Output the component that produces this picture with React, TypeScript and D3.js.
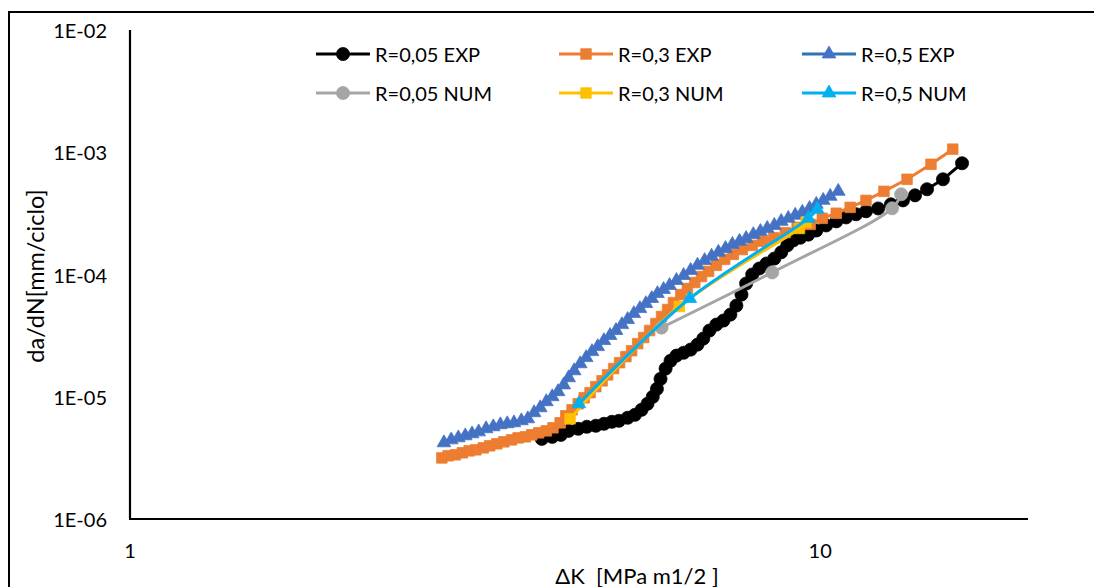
import React from "react";
import * as d3 from "d3";

const W = 1094;
const H = 587;

const xTickValues = [1, 10];
const xTickLabels = ["1", "10"];
const yTickValues = [1e-2, 1e-3, 1e-4, 1e-5, 1e-6];
const yTickLabels = ["1E-02", "1E-03", "1E-04", "1E-05", "1E-06"];

const xTitle = "ΔK  [MPa m1/2 ]";
const yTitle = "da/dN[mm/ciclo]";

// [ΔK, da/dN]
const r005Exp: [number, number][] = [
  [3.95, 4.52e-6], [4.09, 4.7e-6], [4.21, 4.88e-6], [4.32, 5.26e-6], [4.46, 5.47e-6],
  [4.59, 5.68e-6], [4.73, 5.79e-6], [4.86, 6.01e-6], [4.99, 6.24e-6], [5.11, 6.36e-6],
  [5.26, 6.73e-6], [5.39, 7.12e-6], [5.51, 7.82e-6], [5.62, 8.76e-6], [5.72, 1.0e-5],
  [5.8, 1.16e-5], [5.87, 1.4e-5], [5.97, 1.7e-5], [6.07, 1.97e-5], [6.19, 2.17e-5],
  [6.34, 2.29e-5], [6.49, 2.43e-5], [6.64, 2.67e-5], [6.77, 2.99e-5], [6.91, 3.48e-5],
  [7.07, 3.89e-5], [7.24, 4.2e-5], [7.41, 4.7e-5], [7.56, 5.57e-5], [7.69, 6.85e-5],
  [7.81, 8.44e-5], [7.97, 1.0e-4], [8.16, 1.12e-4], [8.36, 1.23e-4], [8.58, 1.35e-4],
  [8.78, 1.52e-4], [8.96, 1.73e-4], [9.14, 1.9e-4], [9.36, 2.0e-4], [9.61, 2.12e-4],
  [9.87, 2.29e-4], [10.2, 2.52e-4], [10.55, 2.72e-4], [10.9, 2.93e-4], [11.27, 3.11e-4],
  [11.65, 3.29e-4], [12.13, 3.47e-4], [12.66, 3.75e-4], [13.18, 4.04e-4], [13.72, 4.44e-4],
  [14.28, 4.98e-4], [15.06, 6.01e-4], [16.05, 8.13e-4],
];

const r03Exp: [number, number][] = [
  [2.83, 3.16e-6], [2.89, 3.29e-6], [2.96, 3.35e-6], [3.03, 3.48e-6], [3.1, 3.61e-6],
  [3.17, 3.68e-6], [3.25, 3.82e-6], [3.32, 3.97e-6], [3.4, 4.12e-6], [3.48, 4.28e-6],
  [3.57, 4.44e-6], [3.65, 4.61e-6], [3.74, 4.7e-6], [3.82, 4.88e-6], [3.91, 5.07e-6],
  [4.01, 5.26e-6], [4.1, 5.57e-6], [4.2, 6.12e-6], [4.28, 6.99e-6], [4.37, 7.82e-6],
  [4.46, 8.76e-6], [4.55, 9.81e-6], [4.64, 1.08e-5], [4.73, 1.21e-5], [4.83, 1.35e-5],
  [4.92, 1.51e-5], [5.02, 1.7e-5], [5.12, 1.9e-5], [5.23, 2.13e-5], [5.33, 2.38e-5],
  [5.44, 2.72e-5], [5.55, 3.05e-5], [5.66, 3.48e-5], [5.78, 3.97e-5], [5.89, 4.53e-5],
  [6.01, 5.17e-5], [6.13, 5.89e-5], [6.28, 6.85e-5], [6.42, 7.68e-5], [6.58, 8.6e-5],
  [6.73, 9.63e-5], [6.89, 1.06e-4], [7.07, 1.19e-4], [7.27, 1.33e-4], [7.48, 1.46e-4],
  [7.71, 1.6e-4], [7.97, 1.73e-4], [8.25, 1.87e-4], [8.56, 2.0e-4], [8.9, 2.2e-4],
  [9.26, 2.43e-4], [9.67, 2.57e-4], [10.07, 2.88e-4], [10.55, 3.17e-4], [11.05, 3.54e-4],
  [11.65, 4.04e-4], [12.37, 4.79e-4], [13.36, 6.01e-4], [14.47, 7.97e-4], [15.56, 1.06e-3],
];

const r05Exp: [number, number][] = [
  [2.85, 4.2e-6], [2.92, 4.44e-6], [2.99, 4.61e-6], [3.06, 4.79e-6], [3.13, 4.97e-6],
  [3.2, 5.16e-6], [3.28, 5.47e-6], [3.36, 5.68e-6], [3.44, 5.9e-6], [3.52, 6.01e-6],
  [3.6, 6.12e-6], [3.69, 6.36e-6], [3.77, 6.6e-6], [3.85, 7.4e-6], [3.93, 8.12e-6],
  [4.01, 9.1e-6], [4.09, 1.0e-5], [4.17, 1.1e-5], [4.25, 1.25e-5], [4.32, 1.43e-5],
  [4.4, 1.63e-5], [4.49, 1.86e-5], [4.58, 2.09e-5], [4.67, 2.34e-5], [4.76, 2.57e-5],
  [4.86, 2.88e-5], [4.96, 3.17e-5], [5.06, 3.48e-5], [5.16, 3.89e-5], [5.26, 4.28e-5],
  [5.37, 4.79e-5], [5.48, 5.26e-5], [5.59, 5.78e-5], [5.7, 6.36e-5], [5.81, 6.98e-5],
  [5.93, 7.54e-5], [6.05, 8.13e-5], [6.19, 8.93e-5], [6.34, 9.81e-5], [6.49, 1.08e-4],
  [6.64, 1.19e-4], [6.8, 1.3e-4], [6.96, 1.41e-4], [7.12, 1.52e-4], [7.29, 1.63e-4],
  [7.46, 1.76e-4], [7.64, 1.87e-4], [7.81, 1.97e-4], [8.0, 2.12e-4], [8.19, 2.25e-4],
  [8.38, 2.38e-4], [8.58, 2.52e-4], [8.78, 2.72e-4], [8.99, 2.88e-4], [9.2, 3.05e-4],
  [9.42, 3.23e-4], [9.65, 3.47e-4], [9.87, 3.75e-4], [10.1, 4.04e-4], [10.34, 4.36e-4],
  [10.62, 4.79e-4],
];

const r005Num: [number, number][] = [
  [5.89, 3.68e-5], [8.52, 1.04e-4], [12.71, 3.48e-4], [13.1, 4.53e-4],
];

const r03Num: [number, number][] = [
  [4.34, 6.6e-6], [6.25, 5.47e-5], [9.33, 2.38e-4], [9.54, 2.67e-4],
];

const r05Num: [number, number][] = [
  [4.47, 8.76e-6], [6.47, 6.36e-5], [9.61, 2.88e-4], [9.9, 3.42e-4],
];

type Marker = "circle" | "square" | "triangle";
interface Series {
  name: string;
  data: [number, number][];
  line: string;
  fill: string;
  stroke: string;
  marker: Marker;
  smooth: boolean;
}

const series: Series[] = [
  { name: "R=0,05 EXP", data: r005Exp, line: "#000000", fill: "#000000", stroke: "#000000", marker: "circle", smooth: false },
  { name: "R=0,3 EXP", data: r03Exp, line: "#ED7D31", fill: "#ED7D31", stroke: "#ED7D31", marker: "square", smooth: false },
  { name: "R=0,5 EXP", data: r05Exp, line: "#2E75B6", fill: "#4472C4", stroke: "#4472C4", marker: "triangle", smooth: false },
  { name: "R=0,05 NUM", data: r005Num, line: "#A5A5A5", fill: "#A5A5A5", stroke: "#A5A5A5", marker: "circle", smooth: true },
  { name: "R=0,3 NUM", data: r03Num, line: "#FFC000", fill: "#FFC000", stroke: "#FFC000", marker: "square", smooth: true },
  { name: "R=0,5 NUM", data: r05Num, line: "#00B0F0", fill: "#00B0F0", stroke: "#00B0F0", marker: "triangle", smooth: true },
];

const FONT = "Lato, 'Open Sans', sans-serif";

const x = d3.scaleLog().domain([1, 20]).range([130, 1028]);
const y = d3.scaleLog().domain([1e-6, 1e-2]).range([519, 30]);

const symbolPath: Record<Marker, string> = {
  circle: d3.symbol().type(d3.symbolCircle).size(135)() as string,
  square: d3.symbol().type(d3.symbolSquare).size(112)() as string,
  triangle: d3.symbol().type(d3.symbolTriangle).size(82)() as string,
};

function MarkerShape({ m, cx, cy, fill, stroke }: { m: Marker; cx: number; cy: number; fill: string; stroke: string }) {
  return <path d={symbolPath[m]} transform={`translate(${cx},${cy})`} fill={fill} stroke={stroke} strokeWidth={0.75} />;
}

const legendCols = [316, 559, 802];
const legendRows = [54, 93];

export default function App() {
  return (
    <svg width={W} height={H} style={{ position: "absolute", left: 0, top: 0, background: "#fff" }}>
      <rect x={0} y={0} width={W} height={H} fill="#ffffff" />
      <rect x={9} y={12} width={W + 20} height={H + 20} fill="none" stroke="#000" strokeWidth={2} />

      {/* axes */}
      <line x1={130} y1={30} x2={130} y2={519} stroke="#000" strokeWidth={2.2} />
      <line x1={129} y1={519} x2={1028} y2={519} stroke="#000" strokeWidth={2.2} />

      {yTickValues.map((v, i) => (
        <text key={i} x={107} y={y(v)} textAnchor="end" dominantBaseline="central" fontFamily={FONT} fontSize={20} fill="#000">
          {yTickLabels[i]}
        </text>
      ))}
      {xTickValues.map((v, i) => (
        <text key={i} x={x(v)} y={550} textAnchor="middle" dominantBaseline="central" fontFamily={FONT} fontSize={20} fill="#000">
          {xTickLabels[i]}
        </text>
      ))}

      <text x={637} y={575} textAnchor="middle" dominantBaseline="central" fontFamily={FONT} fontSize={22} fill="#000" style={{ whiteSpace: "pre" }}>
        {xTitle}
      </text>
      <text transform="translate(35,276) rotate(-90)" textAnchor="middle" dominantBaseline="central" fontFamily={FONT} fontSize={23.5} fill="#000">
        {yTitle}
      </text>

      {series.map((s, si) => {
        const gen = d3
          .line<[number, number]>()
          .x((d) => x(d[0]))
          .y((d) => y(d[1]))
          .curve(s.smooth ? d3.curveCatmullRom.alpha(0.5) : d3.curveLinear);
        return (
          <g key={si}>
            <path d={gen(s.data) as string} fill="none" stroke={s.line} strokeWidth={3} strokeLinejoin="round" />
            {s.data.map((d, i) => (
              <MarkerShape key={i} m={s.marker} cx={x(d[0])} cy={y(d[1])} fill={s.fill} stroke={s.stroke} />
            ))}
          </g>
        );
      })}

      {series.map((s, si) => {
        const col = si % 3;
        const row = Math.floor(si / 3);
        const lx = legendCols[col];
        const ly = legendRows[row];
        return (
          <g key={`lg${si}`}>
            <line x1={lx} y1={ly} x2={lx + 54} y2={ly} stroke={s.line} strokeWidth={3} />
            <MarkerShape m={s.marker} cx={lx + 27} cy={ly} fill={s.fill} stroke={s.stroke} />
            <text x={lx + 59} y={ly} dominantBaseline="central" fontFamily={FONT} fontSize={20} fill="#000">
              {s.name}
            </text>
          </g>
        );
      })}
    </svg>
  );
}
